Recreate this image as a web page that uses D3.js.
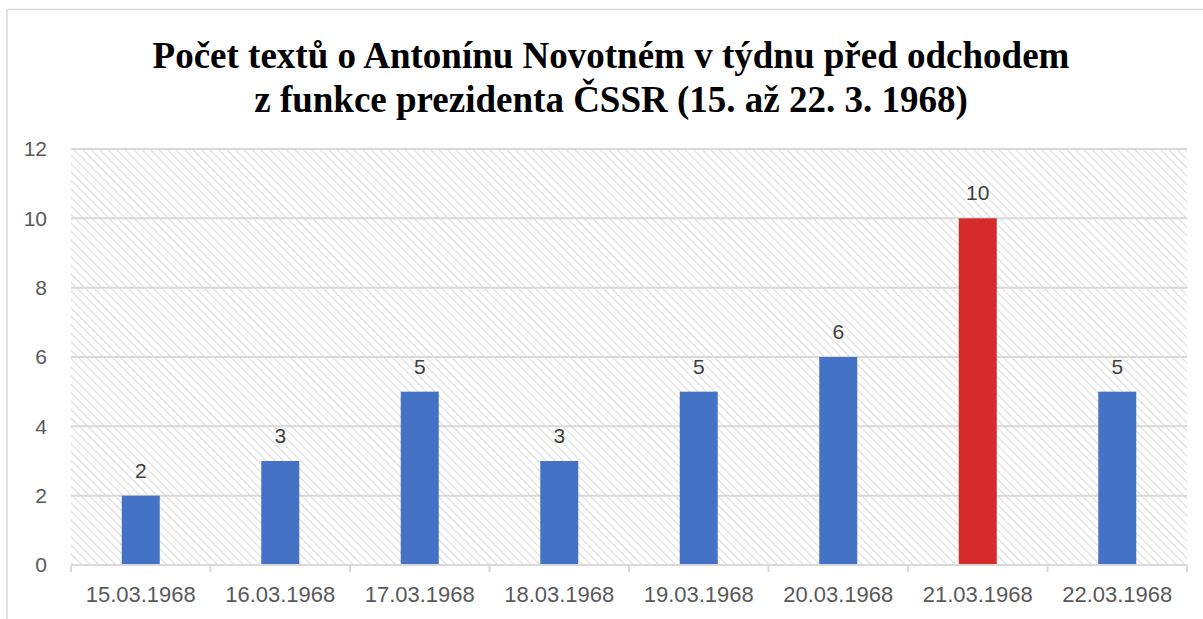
<!DOCTYPE html>
<html>
<head>
<meta charset="utf-8">
<script src="https://cdn.jsdelivr.net/npm/d3@7"></script>
<style>
  body { margin: 0; background: #fff; }
  svg { display: block; }
</style>
</head>
<body>
<svg id="chart" width="1203" height="619"></svg>
<script>
const days = ["15.03.1968", "16.03.1968", "17.03.1968", "18.03.1968", "19.03.1968", "20.03.1968", "21.03.1968", "22.03.1968"];
const counts = [2, 3, 5, 3, 5, 6, 10, 5];
const highlightDay = "21.03.1968";
const yTicks = [0, 2, 4, 6, 8, 10, 12];
const titleLines = ["Počet textů o Antonínu Novotném v týdnu před odchodem", "z funkce prezidenta ČSSR (15. až 22. 3. 1968)"];

const svg = d3.select("#chart");
const W = 1203, H = 619;
const plot = {left: 71, right: 1187, top: 149, bottom: 565};

// chart frame (only top and left edges visible)
svg.append("line").attr("x1", 7).attr("x2", W).attr("y1", 9.5).attr("y2", 9.5)
  .attr("stroke", "#d9d9d9").attr("stroke-width", 1.5);
svg.append("line").attr("x1", 7).attr("x2", 7).attr("y1", 9.5).attr("y2", H)
  .attr("stroke", "#d9d9d9").attr("stroke-width", 1.5);

// hatch pattern for plot area, lines running top-left to bottom-right
const defs = svg.append("defs");
const pat = defs.append("pattern").attr("id", "hatch")
  .attr("patternUnits", "userSpaceOnUse").attr("width", 6).attr("height", 6)
  .attr("patternTransform", "rotate(-45)");
pat.append("rect").attr("width", 6).attr("height", 6).attr("fill", "#fff");
pat.append("line").attr("x1", 0).attr("x2", 0).attr("y1", 0).attr("y2", 6)
  .attr("stroke", "#dcdcdc").attr("stroke-width", 2.2);

const x = d3.scaleBand().domain(days).range([plot.left, plot.right]).paddingInner(0).paddingOuter(0);
const y = d3.scaleLinear().domain([0, 12]).range([plot.bottom, plot.top]);

svg.append("rect").attr("x", plot.left).attr("y", plot.top)
  .attr("width", plot.right - plot.left).attr("height", plot.bottom - plot.top)
  .attr("fill", "url(#hatch)");

// gridlines
svg.append("g").selectAll("line").data(yTicks.filter(d => d > 0)).join("line")
  .attr("x1", plot.left).attr("x2", plot.right)
  .attr("y1", d => y(d)).attr("y2", d => y(d))
  .attr("stroke", "#d9d9d9").attr("stroke-width", 2);

// y axis labels
svg.append("g").selectAll("text").data(yTicks).join("text")
  .attr("x", 47).attr("y", d => y(d)).attr("dy", "0.35em")
  .attr("text-anchor", "end")
  .attr("font-family", "Liberation Sans, Arial, sans-serif").attr("font-size", 21)
  .attr("fill", "#595959").text(d => d);

// bars
const barW = 38;
svg.append("g").selectAll("rect").data(days).join("rect")
  .attr("x", d => x(d) + x.bandwidth() / 2 - barW / 2)
  .attr("width", barW)
  .attr("y", (d, i) => y(counts[i]))
  .attr("height", (d, i) => y(0) - y(counts[i]))
  .attr("fill", d => d === highlightDay ? "#d62b2b" : "#4472c4");

// value labels
svg.append("g").selectAll("text").data(days).join("text")
  .attr("x", d => x(d) + x.bandwidth() / 2)
  .attr("y", (d, i) => y(counts[i]) - 18)
  .attr("text-anchor", "middle")
  .attr("font-family", "Liberation Sans, Arial, sans-serif").attr("font-size", 21)
  .attr("fill", "#404040").text((d, i) => counts[i]);

// x axis
const xAxis = svg.append("g");
xAxis.append("line").attr("x1", plot.left).attr("x2", plot.right)
  .attr("y1", plot.bottom).attr("y2", plot.bottom)
  .attr("stroke", "#d9d9d9").attr("stroke-width", 2);
const bounds = days.map(d => x(d)).concat([plot.right]);
xAxis.selectAll("line.tick").data(bounds).join("line").attr("class", "tick")
  .attr("x1", d => d).attr("x2", d => d)
  .attr("y1", plot.bottom).attr("y2", plot.bottom + 7)
  .attr("stroke", "#d9d9d9").attr("stroke-width", 2);
xAxis.selectAll("text").data(days).join("text")
  .attr("x", d => x(d) + x.bandwidth() / 2).attr("y", 602)
  .attr("text-anchor", "middle")
  .attr("font-family", "Liberation Sans, Arial, sans-serif").attr("font-size", 22)
  .attr("fill", "#595959").text(d => d);

// title
svg.append("g").selectAll("text").data(titleLines).join("text")
  .attr("x", 611).attr("y", (d, i) => 68 + i * 44)
  .attr("text-anchor", "middle")
  .attr("font-family", "Liberation Serif, Times New Roman, serif")
  .attr("font-weight", "bold").attr("font-size", 37)
  .attr("fill", "#000").text(d => d);
</script>
</body>
</html>
